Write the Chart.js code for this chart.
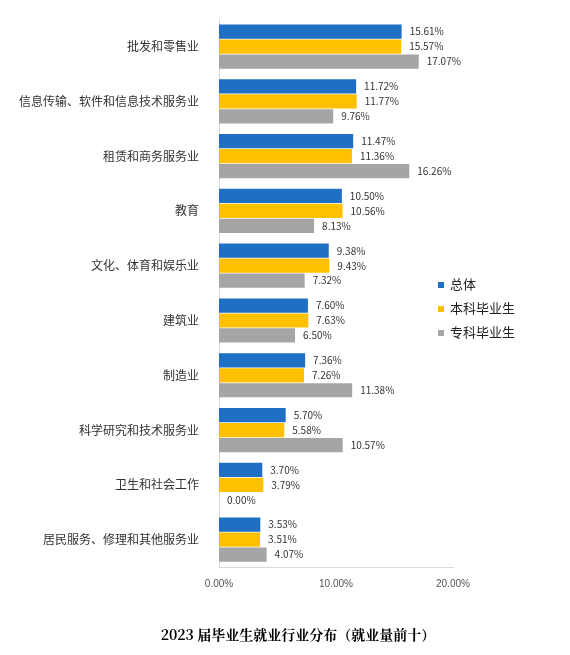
<!DOCTYPE html>
<html><head><meta charset="utf-8">
<script src="https://cdn.jsdelivr.net/npm/chart.js@4/dist/chart.umd.min.js"></script>
<style>body{margin:0;background:#fff}#w{position:relative;width:570px;height:655px}
#lg{position:absolute;left:438px;top:272px;font:13px "Noto Sans CJK SC";color:#222}
#lg div{height:24px;line-height:24px}#lg span{display:inline-block;width:6px;height:6px;margin-right:6px;vertical-align:middle}
#t{position:absolute;left:98px;width:400px;top:624px;text-align:center;font:bold 14px "Noto Serif CJK SC","Noto Sans CJK SC";color:#000}</style>
</head><body><div id="w"><canvas id="c" width="570" height="655"></canvas>
<div id="lg"><div><span style="background:#1f6fc5"></span>总体</div><div><span style="background:#ffc000"></span>本科毕业生</div><div><span style="background:#a5a5a5"></span>专科毕业生</div></div>
<div id="t">2023 届毕业生就业行业分布（就业量前十）</div></div>
<script>
const categories=["批发和零售业","信息传输、软件和信息技术服务业","租赁和商务服务业","教育","文化、体育和娱乐业","建筑业","制造业","科学研究和技术服务业","卫生和社会工作","居民服务、修理和其他服务业"];
const total=[15.61,11.72,11.47,10.50,9.38,7.60,7.36,5.70,3.70,3.53];
const undergrad=[15.57,11.77,11.36,10.56,9.43,7.63,7.26,5.58,3.79,3.51];
const college=[17.07,9.76,16.26,8.13,7.32,6.50,11.38,10.57,0.00,4.07];
const labels={id:'l',afterDatasetsDraw(ch){const x=ch.ctx;x.save();x.font='10px "Noto Sans CJK SC"';x.fillStyle='#333';x.textBaseline='middle';
ch.data.datasets.forEach((d,i)=>ch.getDatasetMeta(i).data.forEach((b,j)=>{x.fillText(d.data[j].toFixed(2)+'%',b.x+8,b.y);}));x.restore();}};
new Chart(document.getElementById('c'),{type:'bar',data:{labels:categories,datasets:[
{label:'总体',data:total,backgroundColor:'#1f6fc5'},
{label:'本科毕业生',data:undergrad,backgroundColor:'#ffc000'},
{label:'专科毕业生',data:college,backgroundColor:'#a5a5a5'}]},
options:{indexAxis:'y',responsive:false,animation:false,categoryPercentage:0.82,barPercentage:0.95,
layout:{padding:{top:8,right:117,bottom:62,left:0}},
plugins:{legend:{display:false},tooltip:{enabled:false}},
scales:{x:{min:0,max:20,ticks:{stepSize:10,callback:v=>v.toFixed(2)+'%',color:'#555',font:{size:10}},grid:{display:false},border:{color:'#d9d9d9'}},
y:{afterFit:a=>{a.width=219},ticks:{color:'#333',font:{family:'"Noto Sans CJK SC"',size:12},padding:12},grid:{display:false},border:{color:'#d9d9d9'}}}},plugins:[labels]});
</script></body></html>
